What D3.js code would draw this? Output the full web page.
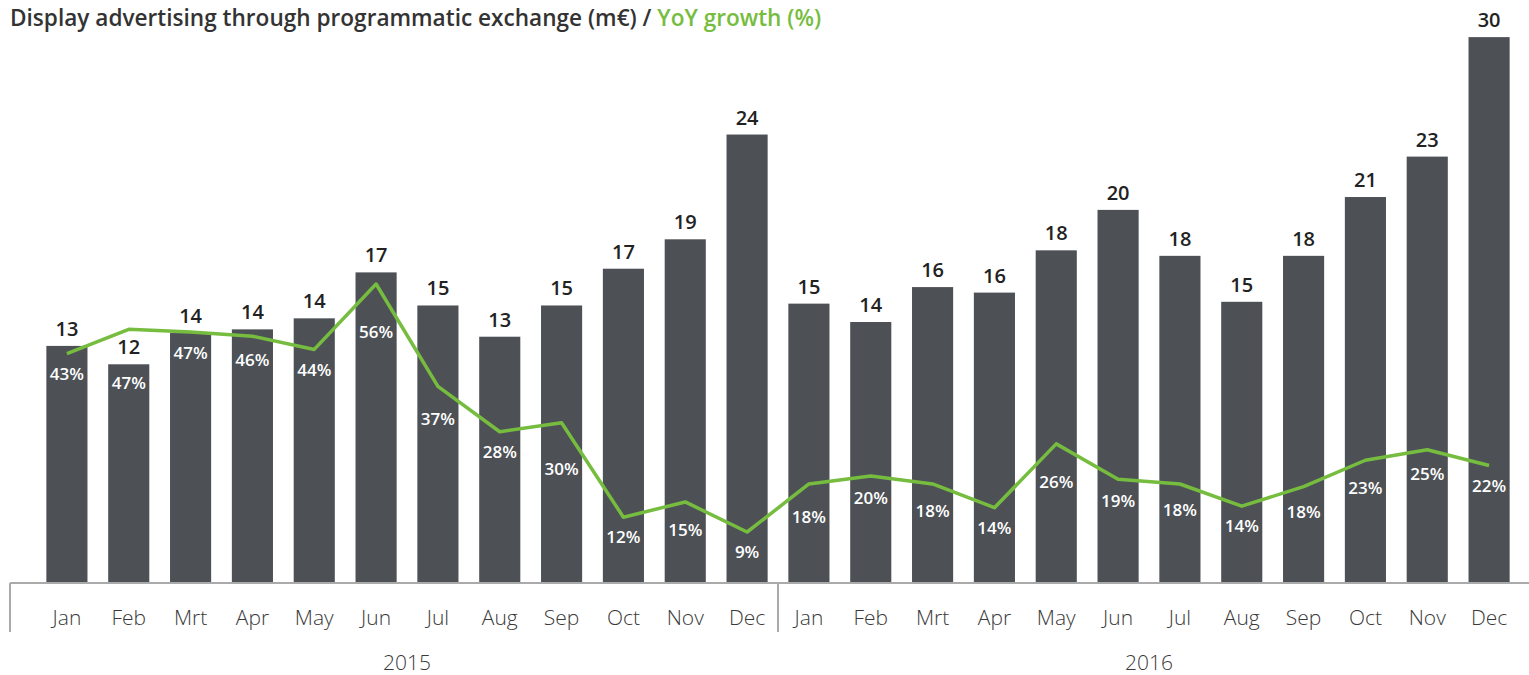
<!DOCTYPE html>
<html>
<head>
<meta charset="utf-8">
<script src="https://cdn.jsdelivr.net/npm/d3@7"></script>
<style>
  body { margin: 0; background: #fff; }
  text { font-family: "Open Sans", "Noto Sans", sans-serif; }
</style>
</head>
<body>
<svg id="chart" width="1529" height="675"></svg>
<script>
const years = ['2015', '2016']
const months = ['Jan', 'Feb', 'Mrt', 'Apr', 'May', 'Jun', 'Jul', 'Aug', 'Sep', 'Oct', 'Nov', 'Dec']

// display advertising through programmatic exchange, m€
const spend2015 = [12.9, 11.9, 13.6, 13.8, 14.4, 16.9, 15.1, 13.4, 15.1, 17.1, 18.7, 24.4]
const spend2016 = [15.2, 14.2, 16.1, 15.8, 18.1, 20.3, 17.8, 15.3, 17.8, 21.0, 23.2, 29.7]

// YoY growth, %
const growth2015 = [42.8, 47.4, 46.9, 46.1, 43.6, 56.0, 36.6, 28.0, 29.7, 11.8, 14.7, 9.0]
const growth2016 = [18.1, 19.6, 18.1, 13.6, 25.7, 19.0, 18.1, 13.9, 17.6, 22.6, 24.6, 21.6]

const rows = []
years.forEach((yr, yi) => {
  const spend = yi === 0 ? spend2015 : spend2016
  const growth = yi === 0 ? growth2015 : growth2016
  months.forEach((m, i) => {
    rows.push({ key: yr + '-' + m, year: yr, month: m, value: spend[i], growth: growth[i] })
  })
})

const barColor = '#4d5156'
const green = '#76bd3f'
const baseline = 583

const svg = d3.select('#chart')

const x = d3.scaleBand()
  .domain(rows.map(d => d.key))
  .range([36, 1520])
  .paddingInner(0.335)
  .paddingOuter(0.1675)

const y = d3.scaleLinear().domain([0, 31.72]).range([baseline, 0])
const y2 = d3.scaleLinear().domain([0, 60]).range([579.5, 579.5 - 60 * 5.277])

const cx = d => x(d.key) + x.bandwidth() / 2

// title
const title = svg.append('text')
  .attr('x', 10)
  .attr('y', 26)
  .attr('font-size', 22.6)
  .attr('font-weight', 600)
  .attr('fill', '#333')
title.append('tspan').text('Display advertising through programmatic exchange (m€) / ')
title.append('tspan').attr('fill', green).text('YoY growth (%)')

// bars
svg.append('g')
  .selectAll('rect')
  .data(rows)
  .join('rect')
  .attr('x', d => x(d.key))
  .attr('y', d => y(d.value))
  .attr('width', x.bandwidth())
  .attr('height', d => baseline - y(d.value))
  .attr('fill', barColor)

// value labels
svg.append('g')
  .selectAll('text')
  .data(rows)
  .join('text')
  .attr('x', cx)
  .attr('y', d => y(d.value) - 10)
  .attr('text-anchor', 'middle')
  .attr('font-size', 20)
  .attr('font-weight', 600)
  .attr('fill', '#222')
  .text(d => d3.format('.0f')(d.value))

// growth line
const line = d3.line().x(cx).y(d => y2(d.growth))
svg.append('path')
  .datum(rows)
  .attr('d', line)
  .attr('fill', 'none')
  .attr('stroke', green)
  .attr('stroke-width', 3.5)
  .attr('stroke-linejoin', 'round')

// place growth labels below the line where it passes the label
const lineYAt = px => {
  const pts = rows.map(d => [cx(d), y2(d.growth)])
  if (px <= pts[0][0]) return pts[0][1]
  if (px >= pts[pts.length - 1][0]) return pts[pts.length - 1][1]
  for (let i = 0; i < pts.length - 1; i++) {
    const [x0, y0] = pts[i]
    const [x1, y1] = pts[i + 1]
    if (px >= x0 && px <= x1) return y0 + (y1 - y0) * (px - x0) / (x1 - x0)
  }
}
const labelY = d => {
  const c = cx(d)
  const low = Math.max(lineYAt(c - 17), lineYAt(c), lineYAt(c + 17))
  return Math.max(low + 20, y(d.value) + 19)
}

svg.append('g')
  .selectAll('text')
  .data(rows)
  .join('text')
  .attr('x', cx)
  .attr('y', labelY)
  .attr('dy', '0.36em')
  .attr('text-anchor', 'middle')
  .attr('font-size', 17)
  .attr('font-weight', 600)
  .attr('fill', '#fff')
  .text(d => d3.format('.0f')(d.growth) + '%')

// x axis
const axisColor = '#aaaaaa'
svg.append('line')
  .attr('x1', 10).attr('x2', 1529)
  .attr('y1', baseline).attr('y2', baseline)
  .attr('stroke', axisColor).attr('stroke-width', 2)
svg.append('line')
  .attr('x1', 10).attr('x2', 10)
  .attr('y1', baseline).attr('y2', 632)
  .attr('stroke', axisColor).attr('stroke-width', 2)
const sepX = (x(years[0] + '-Dec') + x.bandwidth() + x(years[1] + '-Jan')) / 2
svg.append('line')
  .attr('x1', sepX).attr('x2', sepX)
  .attr('y1', baseline).attr('y2', 632)
  .attr('stroke', axisColor).attr('stroke-width', 2)

const lightFont = '"Open Sans Light", "Open Sans", sans-serif'

const xAxis = d3.axisBottom(x)
  .tickSize(0)
  .tickPadding(0)
  .tickFormat(k => k.split('-')[1])

const gx = svg.append('g')
  .attr('transform', `translate(0,${baseline + 27})`)
  .call(xAxis)
gx.select('.domain').remove()
gx.selectAll('text')
  .attr('font-family', lightFont)
  .attr('font-size', 21)
  .attr('font-weight', 300)
  .attr('fill', '#3a3a3a')

// year labels
svg.append('g')
  .selectAll('text')
  .data(years)
  .join('text')
  .attr('x', yr => (x(yr + '-Jan') + x(yr + '-Dec') + x.bandwidth()) / 2)
  .attr('y', 670)
  .attr('text-anchor', 'middle')
  .attr('font-family', lightFont)
  .attr('font-size', 21)
  .attr('font-weight', 300)
  .attr('fill', '#3a3a3a')
  .text(yr => yr)
</script>
</body>
</html>
